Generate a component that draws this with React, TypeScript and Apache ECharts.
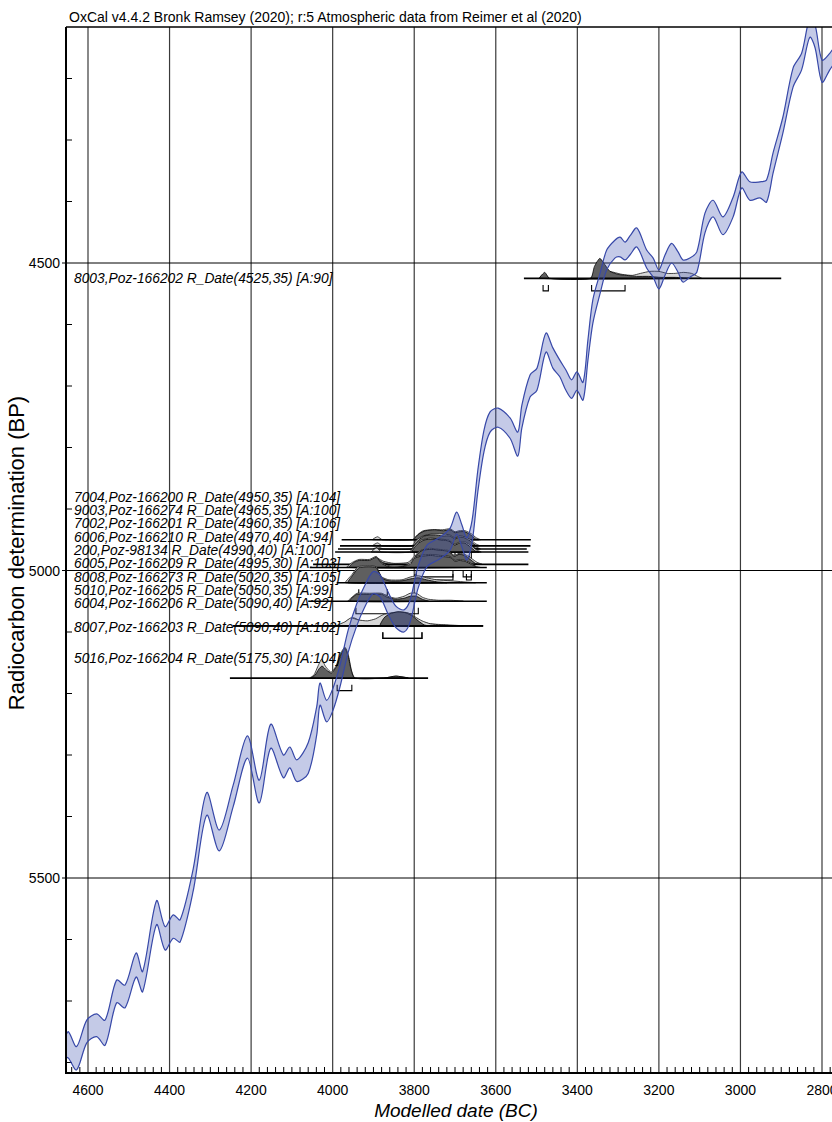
import React, { useEffect, useRef } from 'react';
import * as echarts from 'echarts';

const TITLE_TEXT = 'OxCal v4.4.2 Bronk Ramsey (2020); r:5 Atmospheric data from Reimer et al (2020)';
const X_AXIS_NAME = 'Modelled date (BC)';
const Y_AXIS_NAME = 'Radiocarbon determination (BP)';

// axis ticks
const xTickLabels = [4600, 4400, 4200, 4000, 3800, 3600, 3400, 3200, 3000, 2800];
const yTickLabels = [4500, 5000, 5500];

// visible axis extents (BC on x, BP on y)
const X_LEFT = 4653.95;
const X_RIGHT = 2775.48;
const Y_TOP = 4116.26;
const Y_BOTTOM = 5817.07;

// calibration curve (IntCal20 band)
const calBC = [4656, 4648, 4628, 4603, 4579, 4558, 4530, 4509, 4482, 4466, 4432, 4411, 4391, 4374, 4342, 4309, 4278, 4244, 4209, 4180, 4152, 4121, 4105, 4088, 4060, 4039, 4031, 4015, 3999, 3982, 3962, 3941, 3921, 3901, 3884, 3864, 3845, 3825, 3810, 3791, 3769, 3737, 3712, 3696, 3683, 3671, 3658, 3644, 3629, 3614, 3594, 3565, 3546, 3536, 3516, 3499, 3477, 3460, 3443, 3428, 3414, 3401, 3386, 3374, 3362, 3344, 3328, 3308, 3295, 3283, 3271, 3254, 3230, 3214, 3200, 3185, 3169, 3153, 3141, 3124, 3107, 3087, 3067, 3043, 3018, 2997, 2977, 2952, 2936, 2920, 2896, 2871, 2850, 2830, 2817, 2800, 2781, 2768];
const calUpperBP = [5758, 5750, 5774, 5731, 5721, 5731, 5666, 5674, 5622, 5652, 5537, 5579, 5560, 5568, 5485, 5361, 5422, 5349, 5269, 5341, 5250, 5300, 5287, 5308, 5280, 5221, 5183, 5211, 5191, 5154, 5097, 5054, 5024, 5002, 5007, 5035, 5058, 5064, 5048, 4994, 4959, 4946, 4931, 4905, 4926, 4947, 4918, 4837, 4772, 4742, 4736, 4752, 4775, 4731, 4682, 4671, 4614, 4638, 4658, 4674, 4690, 4677, 4694, 4625, 4560, 4516, 4479, 4463, 4458, 4466, 4456, 4443, 4479, 4492, 4511, 4487, 4468, 4482, 4495, 4492, 4482, 4419, 4398, 4425, 4393, 4352, 4368, 4368, 4365, 4321, 4263, 4183, 4159, 4102, 4113, 4170, 4159, 4146];
const calLowerBP = [5791, 5793, 5812, 5768, 5758, 5772, 5703, 5711, 5661, 5685, 5576, 5617, 5598, 5604, 5521, 5398, 5456, 5384, 5305, 5378, 5289, 5337, 5321, 5343, 5330, 5267, 5219, 5246, 5227, 5189, 5133, 5090, 5059, 5038, 5043, 5071, 5093, 5100, 5084, 5030, 4994, 4981, 4967, 4941, 4962, 4983, 4954, 4872, 4807, 4775, 4767, 4785, 4814, 4768, 4718, 4707, 4645, 4671, 4685, 4707, 4720, 4707, 4723, 4658, 4598, 4549, 4511, 4492, 4490, 4495, 4487, 4474, 4508, 4523, 4542, 4520, 4500, 4515, 4531, 4523, 4515, 4451, 4425, 4454, 4425, 4378, 4398, 4394, 4401, 4354, 4289, 4214, 4186, 4133, 4150, 4206, 4186, 4173];

// radiocarbon dates
const dateNames = [
  '7004,Poz-166200 R_Date(4950,35) [A:104]',
  '9003,Poz-166274 R_Date(4965,35) [A:100]',
  '7002,Poz-166201 R_Date(4960,35) [A:106]',
  '6006,Poz-166210 R_Date(4970,40) [A:94]',
  '200,Poz-98134 R_Date(4990,40) [A:100]',
  '6005,Poz-166209 R_Date(4995,30) [A:103]',
  '8008,Poz-166273 R_Date(5020,35) [A:105]',
  '5010,Poz-166205 R_Date(5050,35) [A:99]',
  '6004,Poz-166206 R_Date(5090,40) [A:92]',
  '8007,Poz-166203 R_Date(5090,40) [A:102]',
  '5016,Poz-166204 R_Date(5175,30) [A:104]',
  '8003,Poz-166202 R_Date(4525,35) [A:90]',
];
const dateBP = [4950, 4965, 4960, 4970, 4990, 4995, 5020, 5050, 5090, 5090, 5175, 4525];
const lineFromBC = [3978, 3987, 3982, 3994, 4048, 4056, 3990, 4060, 4244, 4244, 4252, 3531];
const lineToBC = [3514, 3524, 3515, 3520, 3520, 3622, 3622, 3622, 3631, 3631, 3766, 2900];

// likelihood (light) and posterior (dark) distributions: [BC, relative probability]
const like7004 = [[3902, 0], [3890, 3], [3878, 0], [3805, 0], [3792, 5], [3778, 9], [3755, 10], [3730, 10], [3712, 11], [3700, 8], [3690, 9], [3675, 9], [3660, 6], [3648, 2], [3638, 0]];
const post7004 = [[3800, 0], [3788, 6], [3772, 9], [3750, 10], [3728, 9], [3712, 10], [3700, 7], [3690, 8], [3676, 8], [3662, 5], [3650, 1], [3642, 0]];
const like9003 = [[3900, 0], [3888, 2], [3876, 0], [3808, 0], [3795, 6], [3780, 11], [3758, 13], [3735, 12], [3715, 12], [3700, 8], [3688, 10], [3674, 10], [3660, 6], [3648, 2], [3638, 0]];
const post9003 = [[3802, 0], [3790, 7], [3775, 11], [3752, 12], [3730, 11], [3714, 11], [3700, 7], [3688, 9], [3675, 9], [3662, 5], [3650, 1], [3642, 0]];
const like7002 = [[3902, 0], [3890, 3], [3878, 0], [3806, 0], [3794, 6], [3778, 10], [3756, 12], [3733, 12], [3713, 11], [3700, 8], [3689, 10], [3675, 9], [3661, 6], [3649, 2], [3639, 0]];
const post7002 = [[3800, 0], [3789, 6], [3774, 10], [3752, 11], [3730, 10], [3713, 10], [3700, 7], [3689, 9], [3676, 8], [3663, 5], [3651, 1], [3643, 0]];
const like6006 = [[3905, 0], [3892, 4], [3880, 0], [3812, 0], [3798, 7], [3782, 12], [3760, 14], [3738, 13], [3716, 12], [3701, 8], [3689, 10], [3675, 10], [3660, 6], [3647, 2], [3636, 0]];
const post6006 = [[3805, 0], [3792, 8], [3776, 12], [3754, 13], [3732, 12], [3715, 11], [3701, 7], [3689, 9], [3676, 9], [3662, 5], [3650, 1], [3641, 0]];
const like200 = [[3950, 0], [3930, 2], [3905, 4], [3890, 6], [3875, 3], [3850, 1], [3815, 2], [3800, 8], [3784, 14], [3762, 16], [3740, 15], [3718, 14], [3702, 9], [3690, 11], [3676, 10], [3660, 6], [3646, 2], [3634, 0]];
const post200 = [[3915, 0], [3900, 3], [3890, 5], [3878, 2], [3860, 0], [3808, 0], [3795, 9], [3780, 14], [3758, 15], [3735, 14], [3716, 13], [3702, 8], [3690, 10], [3677, 9], [3663, 5], [3650, 1], [3640, 0]];
const like6005 = [[3965, 0], [3952, 5], [3935, 8], [3910, 8], [3893, 11], [3880, 5], [3865, 2], [3830, 1], [3812, 4], [3800, 10], [3785, 12], [3760, 13], [3735, 12], [3712, 11], [3700, 7], [3690, 8], [3675, 7], [3660, 4], [3648, 1], [3638, 0]];
const post6005 = [[3960, 0], [3948, 5], [3935, 7], [3910, 7], [3893, 10], [3880, 4], [3865, 1], [3840, 0], [3810, 3], [3800, 9], [3785, 11], [3760, 12], [3735, 11], [3712, 10], [3700, 6], [3690, 7], [3675, 6], [3660, 3], [3648, 0]];
const like8008 = [[3968, 0], [3953, 8], [3938, 16], [3915, 17], [3893, 16], [3880, 6], [3862, 3], [3830, 3], [3808, 6], [3790, 7], [3770, 5], [3745, 3], [3710, 2], [3680, 1], [3650, 0]];
const post8008 = [[3962, 0], [3950, 8], [3936, 15], [3913, 16], [3893, 15], [3880, 5], [3862, 2], [3830, 2], [3808, 4], [3790, 5], [3770, 3], [3745, 1], [3720, 0]];
const like5010 = [[3962, 0], [3950, 5], [3940, 8], [3910, 8], [3880, 8], [3865, 5], [3845, 3], [3825, 5], [3810, 8], [3795, 8], [3780, 4], [3765, 2], [3740, 1], [3710, 1], [3680, 0]];
const post5010 = [[3958, 0], [3948, 5], [3940, 7], [3910, 7], [3880, 7], [3866, 4], [3845, 2], [3825, 3], [3810, 5], [3795, 5], [3780, 2], [3765, 0]];
const like6004 = [[3975, 0], [3962, 6], [3948, 8], [3932, 5], [3912, 4], [3893, 6], [3875, 10], [3855, 12], [3833, 12], [3812, 11], [3797, 8], [3782, 4], [3760, 2], [3720, 1], [3680, 0]];
const post6004 = [[3885, 0], [3872, 7], [3855, 11], [3835, 12], [3815, 12], [3800, 9], [3786, 4], [3772, 1], [3760, 0]];
const like8007 = [[3990, 0], [3970, 4], [3955, 8], [3938, 6], [3915, 5], [3895, 7], [3877, 11], [3857, 13], [3836, 14], [3815, 13], [3798, 9], [3781, 5], [3760, 2], [3735, 1], [3705, 0]];
const post8007 = [[3883, 0], [3874, 8], [3860, 12], [3840, 14], [3820, 13], [3805, 10], [3790, 5], [3776, 1], [3766, 0]];
const like5016 = [[4056, 0], [4046, 3], [4036, 12], [4027, 19], [4018, 12], [4004, 6], [3992, 12], [3980, 25], [3970, 31], [3962, 24], [3954, 8], [3945, 0], [3875, 0], [3845, 2], [3815, 0]];
const post5016 = [[4053, 0], [4043, 3], [4034, 9], [4026, 12], [4015, 8], [4003, 5], [3990, 12], [3979, 24], [3970, 30], [3962, 22], [3954, 7], [3946, 0], [3875, 0], [3845, 2], [3815, 0]];
const like8003 = [[3492, 0], [3480, 5], [3468, 0], [3368, 0], [3357, 7], [3345, 9], [3330, 8], [3310, 6], [3290, 4], [3265, 3], [3245, 5], [3222, 7], [3200, 7], [3180, 5], [3160, 5], [3140, 6], [3120, 5], [3105, 2], [3095, 0]];
const post8003 = [[3492, 0], [3480, 6], [3468, 0], [3368, 0], [3358, 12], [3345, 20], [3333, 14], [3320, 7], [3300, 4], [3280, 3], [3255, 2], [3225, 2], [3195, 1], [3160, 1], [3120, 0]];

const likelihoods = [like7004, like9003, like7002, like6006, like200, like6005, like8008, like5010, like6004, like8007, like5016, like8003];
const posteriors = [post7004, post9003, post7002, post6006, post200, post6005, post8008, post5010, post6004, post8007, post5016, post8003];

// 95.4% ranges (BC)
const ranges95 = [
  [[3765, 3700], [3690, 3660]],
  [[3760, 3705], [3680, 3665]],
  [[3770, 3700], [3690, 3660]],
  [[3760, 3700], [3685, 3660]],
  [[3795, 3705], [3680, 3660]],
  [[3903, 3884], [3798, 3705], [3672, 3660]],
  [[3936, 3866]],
  [[3943, 3790]],
  [[3877, 3781]],
  [[3877, 3781]],
  [[3989, 3953]],
  [[3484, 3471], [3365, 3283]],
];

// layout (pixels)
const labelYpx = [497, 510.5, 523.5, 537, 550.5, 563.5, 577, 590, 603, 627, 658, 278];
const FONT = '"Liberation Sans", Arial, sans-serif';
const PROB_PX = 1;

export default function App() {
  const ref = useRef<HTMLDivElement>(null);

  useEffect(() => {
    if (!ref.current) return;
    const chart = echarts.init(ref.current, null, { renderer: 'svg' });

    const renderAxes = (params: any, api: any) => {
      const cs = params.coordSys;
      const left = cs.x, top = cs.y, right = cs.x + cs.width, bottom = cs.y + cs.height;
      const ch: any[] = [];
      xTickLabels.forEach((v) => {
        const x = api.coord([v, Y_TOP])[0];
        ch.push({ type: 'line', shape: { x1: x, y1: top, x2: x, y2: bottom }, style: { stroke: '#3a3a3a', lineWidth: 1.2 } });
        ch.push({ type: 'text', style: { text: String(v), x, y: bottom + 17, align: 'center', verticalAlign: 'middle', fontSize: 14, fontFamily: FONT, fill: '#000' } });
      });
      for (let v = 4640; v >= 2780; v -= 20) {
        if (v % 200 === 0) continue;
        const x = api.coord([v, Y_TOP])[0];
        ch.push({ type: 'line', shape: { x1: x, y1: bottom, x2: x, y2: bottom - 6 }, style: { stroke: '#000', lineWidth: 1 } });
      }
      yTickLabels.forEach((v) => {
        const y = api.coord([X_LEFT, v])[1];
        ch.push({ type: 'line', shape: { x1: left - 4, y1: y, x2: right, y2: y }, style: { stroke: '#000', lineWidth: 1 } });
        ch.push({ type: 'text', style: { text: String(v), x: left - 6, y, align: 'right', verticalAlign: 'middle', fontSize: 14, fontFamily: FONT, fill: '#000' } });
      });
      for (let v = 4200; v <= 5800; v += 100) {
        if (v % 500 === 0) continue;
        const y = api.coord([X_LEFT, v])[1];
        ch.push({ type: 'line', shape: { x1: left, y1: y, x2: left + 6, y2: y }, style: { stroke: '#000', lineWidth: 1 } });
      }
      return { type: 'group', children: ch };
    };

    const renderFrame = (params: any) => {
      const cs = params.coordSys;
      const left = cs.x, top = cs.y, right = cs.x + cs.width, bottom = cs.y + cs.height;
      return {
        type: 'group',
        children: [
          { type: 'line', shape: { x1: left, y1: top, x2: right, y2: top }, style: { stroke: '#000', lineWidth: 1.5 } },
          { type: 'line', shape: { x1: left, y1: top, x2: left, y2: bottom + 1 }, style: { stroke: '#000', lineWidth: 2 } },
          { type: 'line', shape: { x1: left - 1, y1: bottom, x2: right, y2: bottom }, style: { stroke: '#000', lineWidth: 2 } },
        ],
      };
    };

    const renderBand = (params: any, api: any) => {
      const cs = params.coordSys;
      const up = calBC.map((x, i) => api.coord([x, calUpperBP[i]]));
      const lo = calBC.map((x, i) => api.coord([x, calLowerBP[i]]));
      const poly = up.concat(lo.slice().reverse());
      return {
        type: 'group',
        clipPath: { type: 'rect', shape: { x: cs.x, y: cs.y, width: cs.width, height: cs.height } },
        children: [
          { type: 'polygon', shape: { points: poly, smooth: 0.3 }, style: { fill: 'rgba(60,78,176,0.3)', stroke: null } },
          { type: 'polyline', shape: { points: up, smooth: 0.3 }, style: { stroke: '#3748a8', lineWidth: 1.2, fill: null } },
          { type: 'polyline', shape: { points: lo, smooth: 0.3 }, style: { stroke: '#3748a8', lineWidth: 1.2, fill: null } },
        ],
      };
    };

    const renderDate = (params: any, api: any) => {
      const i = params.dataIndex;
      const bp = dateBP[i];
      const base = (bc: number) => api.coord([bc, bp]);
      const shape = (pts: number[][]) => pts.map(([bc, h]) => { const p = base(bc); return [p[0], p[1] - h * PROB_PX]; });
      const ch: any[] = [];
      ch.push({ type: 'polygon', shape: { points: shape(likelihoods[i]), smooth: 0.2 }, style: { fill: '#d8d8d8', stroke: '#1a1a1a', lineWidth: 0.8 } });
      ch.push({ type: 'polygon', shape: { points: shape(posteriors[i]), smooth: 0.2 }, style: { fill: '#5f5f5f', stroke: '#000', lineWidth: 0.8 } });
      const a = base(lineFromBC[i]);
      const b = base(lineToBC[i]);
      ch.push({ type: 'line', shape: { x1: a[0], y1: a[1], x2: b[0], y2: b[1] }, style: { stroke: '#000', lineWidth: 1.6 } });
      ranges95[i].forEach(([f, t]) => {
        const p = base(f);
        const q = base(t);
        ch.push({
          type: 'polyline',
          shape: { points: [[p[0], p[1] + 6.5], [p[0], p[1] + 12.5], [q[0], q[1] + 12.5], [q[0], q[1] + 6.5]] },
          style: { stroke: '#000', fill: null, lineWidth: 1.1 },
        });
      });
      ch.push({
        type: 'text',
        style: { text: dateNames[i], x: params.coordSys.x + 8, y: labelYpx[i], align: 'left', verticalAlign: 'middle', fontSize: 13.8, fontStyle: 'italic', fontFamily: FONT, fill: '#000' },
      });
      return { type: 'group', children: ch };
    };

    chart.setOption({
      animation: false,
      title: {
        text: TITLE_TEXT,
        left: 64,
        top: 5,
        textStyle: { fontSize: 14, fontWeight: 'normal', fontFamily: FONT, color: '#000' },
      },
      grid: { left: 66, right: 0, top: 27, bottom: 49 },
      xAxis: {
        type: 'value', min: X_RIGHT, max: X_LEFT, inverse: true,
        axisLine: { show: false }, axisTick: { show: false }, axisLabel: { show: false }, splitLine: { show: false },
      },
      yAxis: {
        type: 'value', min: Y_TOP, max: Y_BOTTOM, inverse: true,
        axisLine: { show: false }, axisTick: { show: false }, axisLabel: { show: false }, splitLine: { show: false },
      },
      graphic: [
        { type: 'text', x: 456, y: 1110, style: { text: X_AXIS_NAME, align: 'center', verticalAlign: 'middle', fontSize: 19, fontStyle: 'italic', fontFamily: FONT, fill: '#000' } },
        { type: 'text', x: 16, y: 553, rotation: Math.PI / 2, style: { text: Y_AXIS_NAME, align: 'center', verticalAlign: 'middle', fontSize: 22, fontFamily: FONT, fill: '#000' } },
      ],
      series: [
        { type: 'custom', name: 'axes', renderItem: renderAxes, data: [[X_LEFT, Y_TOP]], z: 1, silent: true },
        { type: 'custom', name: 'dates', renderItem: renderDate, data: dateBP.map((bp, i) => [lineFromBC[i], bp]), z: 2, silent: true },
        { type: 'custom', name: 'calibration', renderItem: renderBand, data: [[calBC[0], calUpperBP[0]]], z: 3, silent: true },
        { type: 'custom', name: 'frame', renderItem: renderFrame, data: [[X_LEFT, Y_TOP]], z: 10, silent: true },
      ],
    });

    return () => chart.dispose();
  }, []);

  return <div ref={ref} style={{ position: 'absolute', left: 0, top: 0, width: 832, height: 1122 }} />;
}
